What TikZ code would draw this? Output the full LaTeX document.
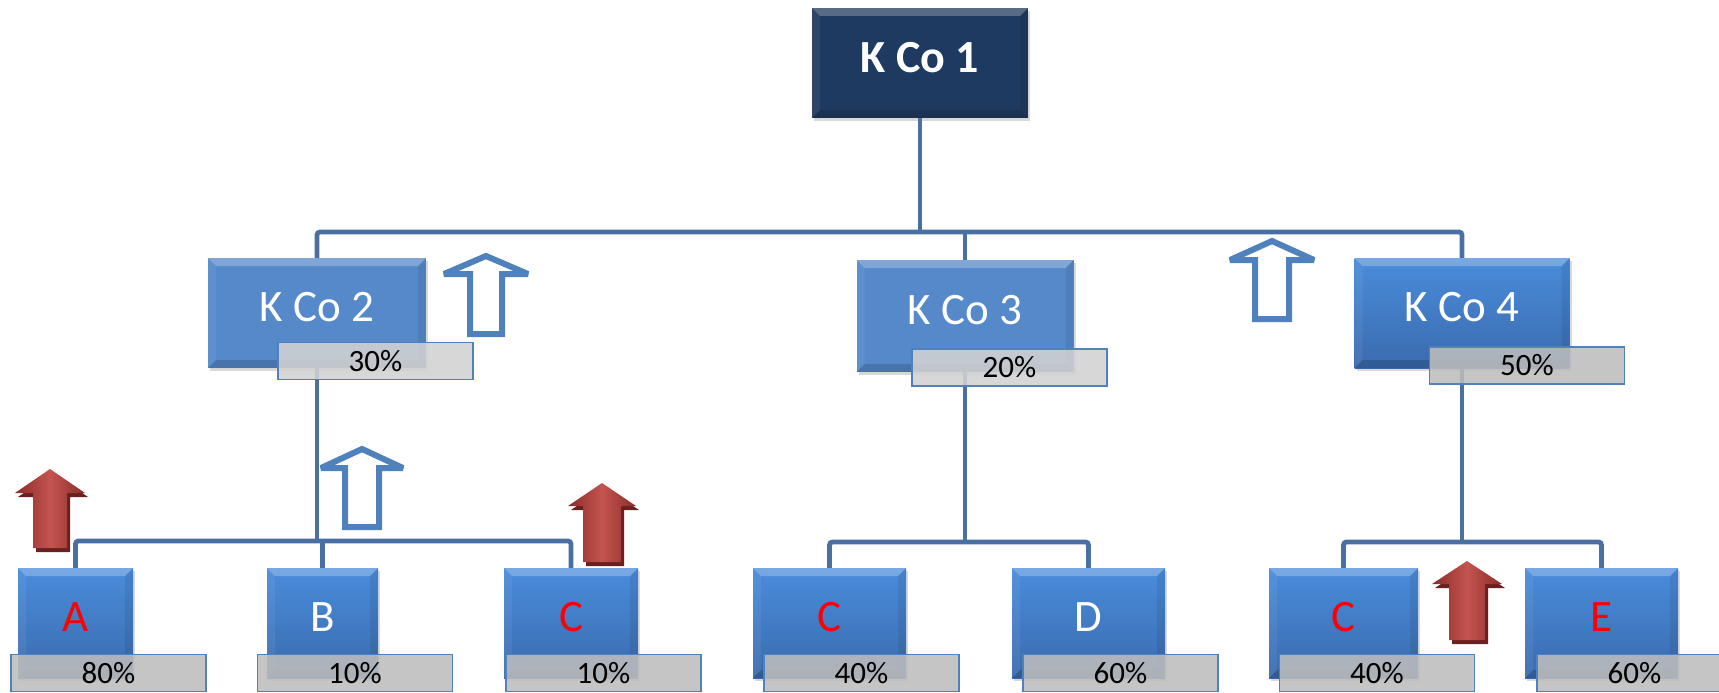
\documentclass[tikz,border=0pt]{standalone}
\usepackage{fontspec}
\setmainfont{Carlito}
\usetikzlibrary{shadows}
\pgfdeclarelayer{background}
\pgfsetlayers{background,main}

\definecolor{navy}{HTML}{1F3A60}
\definecolor{midblue}{HTML}{5689CA}
\definecolor{topblue}{HTML}{4A8CDB}
\definecolor{botblue}{HTML}{3A6BAE}
\definecolor{linkblue}{HTML}{4A6FA3}
\definecolor{edgeblue}{HTML}{4F81BD}
\definecolor{tagfill}{HTML}{BDBDBD}
\definecolor{tagfilllight}{HTML}{D2D2D2}
\definecolor{arrowred}{HTML}{C4544F}
\definecolor{arrowdark}{HTML}{8A2C2A}
\definecolor{arrowshadow}{HTML}{6A201F}

% outlined "increase" arrow: centre x, tip y, wing y, foot y, wing half width, shaft half width
\newcommand\hollowup[6]{%
  \draw[hollowarrow] (#1,#2) -- (#1+#5,#3) -- (#1+#6,#3) -- (#1+#6,#4)
    -- (#1-#6,#4) -- (#1-#6,#3) -- (#1-#5,#3) -- cycle;}
% solid red arrow with a dark offset copy behind it
\newcommand\redup[6]{%
  \begin{scope}[shift={(3,4)}]
    \fill[arrowshadow] (#1,#2) -- (#1+#5,#3) -- (#1+#6,#3) -- (#1+#6,#4)
      -- (#1-#6,#4) -- (#1-#6,#3) -- (#1-#5,#3) -- cycle;
  \end{scope}
  \shade[left color=arrowdark, right color=arrowdark, middle color=arrowred]
    (#1,#2) -- (#1+#5,#3) -- (#1+#6,#3) -- (#1+#6,#4)
    -- (#1-#6,#4) -- (#1-#6,#3) -- (#1-#5,#3) -- cycle;}

\tikzset{
  bevel/.style={path picture={
    \fill[white,opacity=.25] (path picture bounding box.north west)
      -- (path picture bounding box.north east)
      -- ([shift={(-8pt,-8pt)}]path picture bounding box.north east)
      -- ([shift={(8pt,-8pt)}]path picture bounding box.north west) -- cycle;
    \fill[white,opacity=.06] (path picture bounding box.north west)
      -- ([shift={(8pt,-8pt)}]path picture bounding box.north west)
      -- ([shift={(8pt,8pt)}]path picture bounding box.south west)
      -- (path picture bounding box.south west) -- cycle;
    \fill[black,opacity=.07] (path picture bounding box.north east)
      -- ([shift={(-8pt,-8pt)}]path picture bounding box.north east)
      -- ([shift={(-8pt,8pt)}]path picture bounding box.south east)
      -- (path picture bounding box.south east) -- cycle;
    \fill[black,opacity=.15] (path picture bounding box.south west)
      -- ([shift={(8pt,8pt)}]path picture bounding box.south west)
      -- ([shift={(-8pt,8pt)}]path picture bounding box.south east)
      -- (path picture bounding box.south east) -- cycle;
  }},
  box/.style={rectangle, draw=none, inner sep=0pt, bevel, text=white,
    drop shadow={shadow xshift=2pt, shadow yshift=-3pt, opacity=.3},
    font=\fontsize{45}{54}\selectfont, text depth=12pt},
  flatbox/.style={box, fill=midblue},
  gradbox/.style={box, top color=topblue, bottom color=botblue},
  topbox/.style={box, fill=navy, font=\fontsize{46}{55}\selectfont\bfseries},
  leaf/.style={gradbox, minimum height=110pt},
  tag/.style={rectangle, draw=edgeblue, line width=1.5pt, fill=tagfill,
    fill opacity=.88, text opacity=1, text=black, inner sep=0pt,
    minimum width=195pt, minimum height=37pt,
    font=\fontsize{31}{37}\selectfont},
  lighttag/.style={tag, fill=tagfilllight},
  link/.style={draw=linkblue, line width=4.8pt, rounded corners=3pt},
  hollowarrow/.style={draw=edgeblue, line width=6pt, fill=white, miter limit=4},
}

\begin{document}
\begin{tikzpicture}[x=1pt, y=-1pt]
  \useasboundingbox (0,0) rectangle (1719,693);

  % top company
  \node[topbox, minimum width=216pt, minimum height=110pt] (k1) at (920,63) {K Co 1};

  % second level
  \node[flatbox, minimum width=218pt, minimum height=110pt] (k2) at (317,313) {K Co 2};
  \node[flatbox, minimum width=217pt, minimum height=112pt] (k3) at (965,316) {K Co 3};
  \node[gradbox, minimum width=215pt, minimum height=110pt] (k4) at (1462,313) {K Co 4};

  % third level
  \node[leaf, minimum width=115pt, text=red] (a)  at (75.5,623)  {A};
  \node[leaf, minimum width=111pt]           (b)  at (322.5,623) {B};
  \node[leaf, minimum width=134pt, text=red] (c1) at (571,623)   {C};
  \node[leaf, minimum width=153pt, text=red] (c2) at (829.5,623) {C};
  \node[leaf, minimum width=153pt]           (d)  at (1088.5,623){D};
  \node[leaf, minimum width=149pt, text=red] (c3) at (1343.5,623){C};
  \node[leaf, minimum width=153pt, text=red] (e)  at (1601.5,623){E};

  % ownership shares
  \node[lighttag] (t2) at (375.5,361)  {30\%};
  \node[lighttag] (t3) at (1009.5,367.5) {20\%};
  \node[tag]      (t4) at (1527,365.5) {50\%};
  \node[tag] (ta)  at (108.5,673)  {80\%};
  \node[tag] (tb)  at (355,673)    {10\%};
  \node[tag] (tc1) at (603.5,673)  {10\%};
  \node[tag] (tc2) at (861.5,673)  {40\%};
  \node[tag] (td)  at (1120.5,673) {60\%};
  \node[tag] (tc3) at (1377,673)   {40\%};
  \node[tag] (te)  at (1634.5,673) {60\%};

  % connectors
  \coordinate (bus1) at (920,232);
  \coordinate (bus2) at (317,541);
  \coordinate (bus3) at (965,542);
  \coordinate (bus4) at (1462,542);
  \begin{pgfonlayer}{background}
    \draw[link] (k1.south) -- (bus1);
    \draw[link] (k2.north) |- (bus1) -| (k4.north);
    \draw[link] (k3.north) -- (k3.north |- bus1);
    \draw[link] (k2.south) -- (bus2);
    \draw[link] (a.north) |- (bus2) -| (c1.north);
    \draw[link] (b.north) -- (b.north |- bus2);
    \draw[link] (k3.south) -- (bus3);
    \draw[link] (c2.north) |- (bus3) -| (d.north);
    \draw[link] (k4.south) -- (bus4);
    \draw[link] (c3.north) |- (bus4) -| (e.north);
  \end{pgfonlayer}

  % outlined arrows
  \hollowup{486}{256}{274}{334}{42}{16}
  \hollowup{1272}{241}{260}{319}{42}{17}
  \hollowup{362}{449}{468}{527}{41}{17}

  % red arrows
  \redup{50}{469}{493}{548}{35}{17}
  \redup{602}{483}{506}{562}{34}{19}
  \redup{1467}{561}{584}{640}{35}{18}
\end{tikzpicture}
\end{document}
